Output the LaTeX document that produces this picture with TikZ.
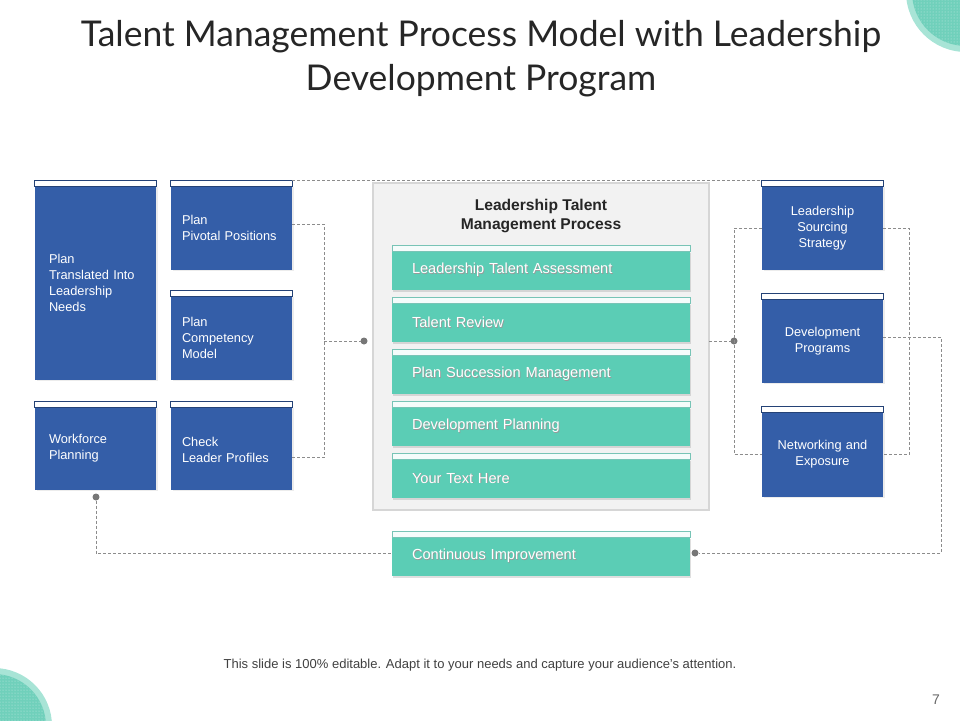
\documentclass[tikz,border=0pt]{standalone}
\usepackage{fontspec}
\setmainfont{Liberation Sans}
\newfontfamily\titlefont{Lato}
\usepackage{tikz}
\usetikzlibrary{calc,positioning,shadows,patterns}

\definecolor{slideblue}{RGB}{52,94,168}
\definecolor{slideteal}{RGB}{91,205,181}
\definecolor{tealedge}{RGB}{120,196,182}
\definecolor{ringteal}{RGB}{168,228,214}
\definecolor{dotteal}{RGB}{112,208,187}
\definecolor{panelgray}{RGB}{242,242,242}
\definecolor{paneledge}{RGB}{214,214,214}
\definecolor{linkgray}{RGB}{140,140,140}
\definecolor{titlegray}{RGB}{38,38,38}

% white text with a soft dark shadow
\newcommand\shadedlabel[1]{\makebox[0pt][l]{\hspace{0.8pt}\raisebox{-0.8pt}{\textcolor{black!40}{#1}}}#1}

\begin{document}
\begin{tikzpicture}[
  x=1pt,y=-1pt,
  every node/.style={inner sep=0pt,outer sep=0pt},
  bluebox/.style={fill=slideblue,text=white,anchor=north west,
    font=\fontsize{12.8}{16}\selectfont,minimum width=121pt,
    drop shadow={shadow xshift=2pt,shadow yshift=-1pt,opacity=0.15}},
  leftbox/.style={bluebox,align=left,text width=#1,inner xsep=(121pt-#1)/2},
  rightbox/.style={bluebox,align=center,text width=105pt,inner xsep=8pt},
  bluecap/.style={fill=white,draw=slideblue!70!black,line width=0.6pt},
  stepbar/.style={fill=slideteal,text=white,anchor=north west,
    font=\fontsize{14.6}{16}\selectfont,minimum width=298pt,minimum height=39pt,
    align=left,text width=258pt,inner xsep=20pt,
    drop shadow={shadow xshift=1pt,shadow yshift=-2pt,opacity=0.25}},
  tealcap/.style={fill=white!94!slideteal,draw=tealedge,line width=0.6pt},
  panel/.style={fill=panelgray,draw=paneledge,line width=1.5pt,anchor=north west,
    minimum width=336pt,minimum height=327pt},
  link/.style={draw=linkgray,line width=0.8pt,dash pattern=on 3pt off 2pt},
  dot/.style={circle,fill=linkgray!85!black,minimum size=7pt}
]
  \useasboundingbox (0,0) rectangle (960,720);

  % corner decorations
  \fill[ringteal] (966,-8) circle (60);
  \fill[dotteal] (966,-8) circle (54);
  \fill[pattern=dots,pattern color=white!60!dotteal] (966,-8) circle (54);
  \fill[ringteal] (-6,726) circle (58);
  \fill[dotteal] (-6,726) circle (52);
  \fill[pattern=dots,pattern color=white!60!dotteal] (-6,726) circle (52);

  % title
  \node[font=\titlefont\fontsize{35.5}{44}\selectfont,text=titlegray,align=center]
    (title) at (481,59) {Talent Management Process Model with Leadership\\Development Program};

  % left blocks
  \node[leftbox=93pt,minimum height=194pt] (plan) at (35,186)
    {Plan\\Translated Into\\Leadership\\Needs};
  \node[leftbox=99pt,minimum height=84pt] (pivot) at (171,186)
    {Plan\\Pivotal Positions};
  \node[leftbox=99pt,minimum height=84pt] (compet) at (171,296)
    {Plan\\Competency\\Model};
  \node[leftbox=93pt,minimum height=83pt] (wforce) at (35,407)
    {Workforce\\Planning};
  \node[leftbox=99pt,minimum height=83pt] (leader) at (171,407)
    {\\[-4pt]Check\\Leader Profiles};

  % central panel
  \node[panel] (ltmp) at (373,183) {};
  \node[font=\bfseries\fontsize{15.6}{19}\selectfont,align=center,text=titlegray]
    (ltmptitle) at (541,216) {Leadership Talent\\Management Process};
  \node[stepbar] (assess) at (392,251) {\shadedlabel{Leadership Talent Assessment}};
  \node[stepbar] (review) at (392,303) {\shadedlabel{Talent Review}};
  \node[stepbar] (succ) at (392,355) {\shadedlabel{Plan Succession Management}};
  \node[stepbar] (devplan) at (392,407) {\shadedlabel{Development Planning}};
  \node[stepbar] (yourtext) at (392,459) {\shadedlabel{Your Text Here}};
  \node[stepbar] (contimp) at (392,537) {\shadedlabel{Continuous Improvement}};

  % right blocks
  \node[rightbox,minimum height=84pt] (sourcing) at (762,186)
    {Leadership\\Sourcing\\Strategy};
  \node[rightbox,minimum height=84pt] (devprog) at (762,299)
    {Development\\Programs};
  \node[rightbox,minimum height=85pt] (network) at (762,412)
    {Networking and\\Exposure};

  % white strips on top of the blocks
  \foreach \b in {plan,pivot,compet,wforce,leader,sourcing,devprog,network}
    \draw[bluecap] ($(\b.north west)+(-0.5,-6)$) rectangle ($(\b.north east)+(0.5,0)$);
  \foreach \b in {assess,review,succ,devplan,yourtext,contimp}
    \draw[tealcap] ($(\b.north west)+(0,-6)$) rectangle ($(\b.north east)+(0,0)$);

  % junction dots
  \node[dot] (dotL) at (364,341) {};
  \node[dot] (dotR) at (734,341) {};
  \node[dot] (dotW) at (96,497) {};
  \node[dot] (dotC) at (695,553) {};
  \coordinate (lbus) at (324,341);

  % dashed connectors
  \draw[link] ($(pivot.east)+(0,-4)$) -- ++(32,0) |- ($(leader.east)+(0,9)$);
  \draw[link] (lbus) -- (dotL);
  \draw[link] ($(pivot.north east)+(0,-6)$) -- ($(sourcing.north west)+(0,-6)$);
  \draw[link] (sourcing.west) -- ++(-28,0) |- (network.west);
  \draw[link] (ltmp.east |- dotR) -- (dotR);
  \draw[link] (sourcing.east) -- ++(26,0) |- (network.east);
  \draw[link] ($(devprog.east)+(0,-4)$) -- ++(58,0) |- (dotC);
  \draw[link] (dotW) |- ($(contimp.west)+(0,-3)$);

  % footer
  \node[font=\fontsize{13}{15}\selectfont,text=black!75] (note) at (480,665)
    {This slide is 100\% editable. Adapt it to your needs and capture your audience's attention.};
  \node[font=\fontsize{14}{16}\selectfont,text=black!60] (pagenum) at (936,700) {7};
\end{tikzpicture}
\end{document}
